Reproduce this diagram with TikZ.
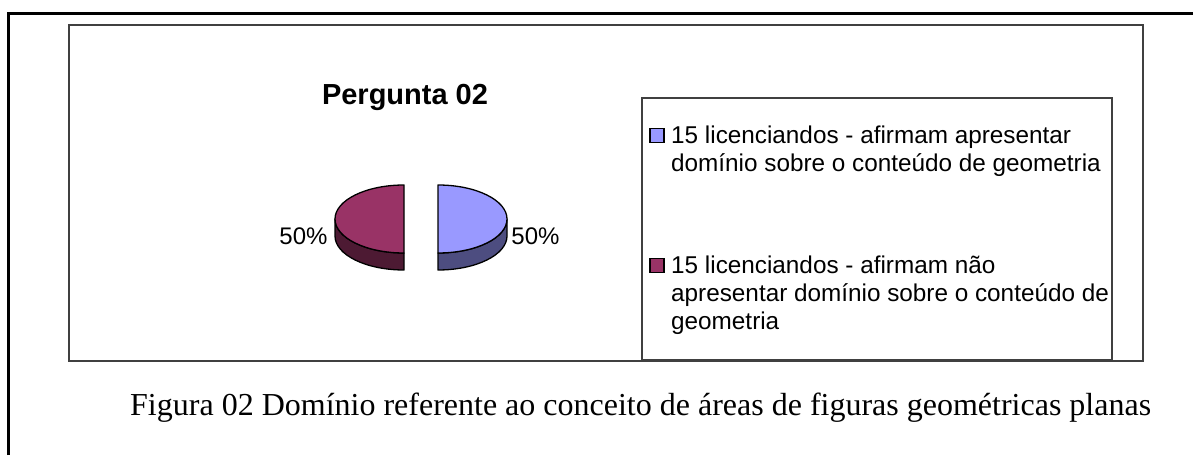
\documentclass[tikz,border=0pt]{standalone}
\usepackage{fontspec}
\setmainfont{Liberation Sans}
\newfontfamily\capfont{Liberation Serif}
\usepackage{tikz}
\usepackage{xcolor}

\definecolor{sliceblue}{HTML}{9999FF}
\definecolor{sliceblueside}{HTML}{4D4D80}
\definecolor{slicewine}{HTML}{993366}
\definecolor{slicewineside}{HTML}{4D1A33}

\tikzset{
    chartframe/.style={draw=black!75, line width=1.4pt},
    slice/.style={draw=black, line width=1.3pt, line join=round},
    legkey/.style={draw=black, line width=1.5pt, minimum size=14pt, inner sep=0pt},
    legtext/.style={anchor=north west, inner sep=0pt, align=left, font=\fontsize{24.3}{28}\selectfont},
    pct/.style={inner sep=0pt, font=\fontsize{24}{24}\selectfont}
}

\begin{document}
\begin{tikzpicture}[x=1pt, y=1pt]
            \useasboundingbox (0,0) rectangle (1193,455);
            \draw[line width=3pt] (8,0) -- (8,441) -- (1193,441);
            \draw[chartframe] (69,94) rectangle (1143,430);

            \node[inner sep=0pt, font=\bfseries\fontsize{29}{29}\selectfont] (titulo) at (405,357.5) {Pergunta 02};

            % pie, two halves pulled apart
            \draw[slice, fill=slicewineside] (335,236) arc[start angle=180, end angle=270, x radius=69, y radius=34] -- (404,185) arc[start angle=270, end angle=180, x radius=69, y radius=34] -- cycle;
            \draw[slice, fill=slicewine] (404,270) arc[start angle=90, end angle=270, x radius=69, y radius=34] -- cycle;
            \draw[slice, fill=sliceblueside] (507,236) arc[start angle=0, end angle=-90, x radius=69, y radius=34] -- (438,185) arc[start angle=-90, end angle=0, x radius=69, y radius=34] -- cycle;
            \draw[slice, fill=sliceblue] (438,270) arc[start angle=90, end angle=-90, x radius=69, y radius=34] -- cycle;

            \node[pct] (pctwine) at (303.5,218.5) {50\%};
            \node[pct] (pctblue) at (535.5,218.5) {50\%};

            % legend
            \draw[chartframe] (642,95) rectangle (1112,357);
            \node[legkey, fill=sliceblue] (keyblue) at (657,319.5) {};
            \node[legkey, fill=slicewine] (keywine) at (657,189.5) {};
            \node[legtext] (txtblue) at (671,329) {15 licenciandos - afirmam apresentar\\domínio sobre o conteúdo de geometria};
            \node[legtext] (txtwine) at (671,199) {15 licenciandos - afirmam não\\apresentar domínio sobre o conteúdo de\\geometria};

            \node[anchor=base west, inner sep=0pt, font=\capfont\fontsize{32}{32}\selectfont] (legenda) at (130,40) {Figura 02 Domínio referente ao conceito de áreas de figuras geométricas planas};
        \end{tikzpicture}
\end{document}
